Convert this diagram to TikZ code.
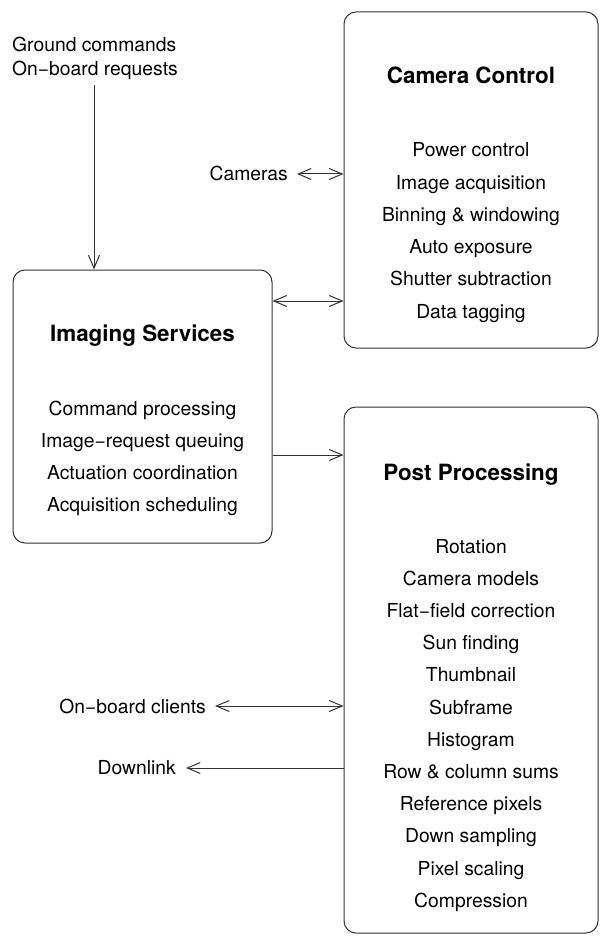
\documentclass[tikz,border=0pt]{standalone}
\usepackage{fontspec}
\setmainfont{TeX Gyre Heros}
\usetikzlibrary{arrows.meta}
\begin{document}
\begin{tikzpicture}[x=1pt,y=-1pt,
  box/.style={draw=black!80, line width=1pt, rounded corners=12pt, inner sep=0pt},
  txt/.style={font=\fontsize{19.3}{24}\selectfont, inner sep=0pt, anchor=base},
  ttl/.style={font=\fontsize{22.4}{27}\selectfont\bfseries, inner sep=0pt, anchor=base},
  conn/.style={line width=1pt, draw=black!80},
  >={Straight Barb[length=13pt,width=11pt,line width=1pt]}
]
\useasboundingbox (0,0) rectangle (600,936);

% boxes
\node[box, minimum width=254pt, minimum height=336pt] (cam) at (471,180) {};
\node[box, minimum width=259pt, minimum height=273pt] (img) at (142.5,406.5) {};
\node[box, minimum width=254pt, minimum height=526pt] (post) at (471,670) {};

% Camera Control
\node[ttl] (camT) at (471,84) {Camera Control};
\foreach \t [count=\i from 0] in {Power control,Image acquisition,Binning \& windowing,Auto exposure,Shutter subtraction,Data tagging}
  \node[txt] (cam\i) at (471,157+32.2*\i) {\t};

% Imaging Services
\node[ttl] (imgT) at (142.5,341) {Imaging Services};
\foreach \t [count=\i from 0] in {Command processing,Image−request queuing,Actuation coordination,Acquisition scheduling}
  \node[txt] (img\i) at (142.5,415+32*\i) {\t};

% Post Processing
\node[ttl] (postT) at (471,480) {Post Processing};
\foreach \t [count=\i from 0] in {Rotation,Camera models,Flat−field correction,Sun finding,Thumbnail,Subframe,Histogram,Row \& column sums,Reference pixels,Down sampling,Pixel scaling,Compression}
  \node[txt] (post\i) at (471,553+32.2*\i) {\t};

% outside labels
\node[txt, anchor=base west] (gc1) at (12,52) {Ground commands};
\node[txt, anchor=base west] (gc2) at (12,76) {On−board requests};
\node[txt, anchor=base east] (camlbl) at (288,181) {Cameras};
\node[txt, anchor=base east] (oblbl) at (206,713) {On−board clients};
\node[txt, anchor=base east] (dllbl) at (176,774) {Downlink};

% connectors
\coordinate (gcx) at (94,85);
\coordinate (camlblE) at (297,174);
\coordinate (oblblE) at (215,706);
\coordinate (dllblE) at (186,768);
\coordinate (iclevel) at (0,301);
\coordinate (iplevel) at (0,455);

\draw[conn,->] (gcx) -- (img.north -| gcx);
\draw[conn,<->] (camlblE) -- (cam.west |- camlblE);
\draw[conn,<->] (img.east |- iclevel) -- (cam.west |- iclevel);
\draw[conn,->] (img.east |- iplevel) -- (post.west |- iplevel);
\draw[conn,<->] (oblblE) -- (post.west |- oblblE);
\draw[conn,->] (post.west |- dllblE) -- (dllblE);
\end{tikzpicture}
\end{document}
